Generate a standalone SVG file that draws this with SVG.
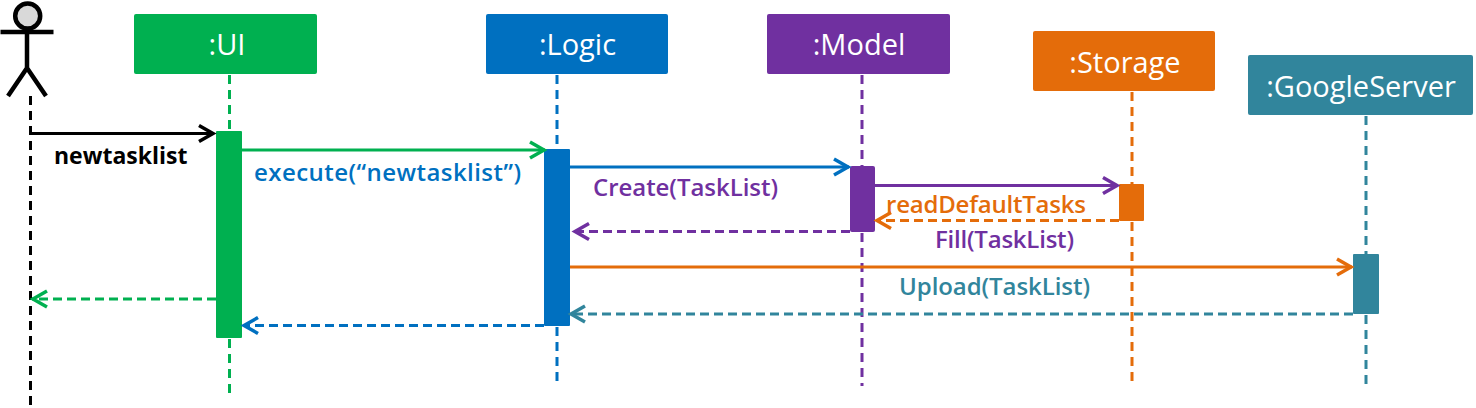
<svg xmlns="http://www.w3.org/2000/svg" width="1476" height="408" viewBox="0 0 1476 408">
<style>
text{font-family:"Open Sans","Noto Sans","Liberation Sans",sans-serif}
.t{font-size:29px;fill:#fff;text-anchor:middle}
.m{font-size:24px;font-weight:600}
.c{fill:none;stroke-width:3}
.d{stroke-dasharray:9 5}
.l{fill:none;stroke-width:3;stroke-dasharray:9 6}
.h{fill:none;stroke-width:3.500}
.green{stroke:#00b050}.blue{stroke:#0070c0}.purple{stroke:#7030a0}.orange{stroke:#e46c0a}.teal{stroke:#31859c}.black{stroke:#000}
.ag{marker-end:url(#ag)}.ab{marker-end:url(#ab)}.ap{marker-end:url(#ap)}.ao{marker-end:url(#ao)}.ak{marker-end:url(#ak)}.at{marker-end:url(#at)}
</style>
<defs>
<marker id="ag" markerUnits="userSpaceOnUse" markerWidth="24" markerHeight="24" refX="19" refY="12" orient="auto"><path class="h green" d="M4 4L18 12L4 20"/></marker>
<marker id="ab" markerUnits="userSpaceOnUse" markerWidth="24" markerHeight="24" refX="19" refY="12" orient="auto"><path class="h blue" d="M4 4L18 12L4 20"/></marker>
<marker id="ap" markerUnits="userSpaceOnUse" markerWidth="24" markerHeight="24" refX="19" refY="12" orient="auto"><path class="h purple" d="M4 4L18 12L4 20"/></marker>
<marker id="ao" markerUnits="userSpaceOnUse" markerWidth="24" markerHeight="24" refX="19" refY="12" orient="auto"><path class="h orange" d="M4 4L18 12L4 20"/></marker>
<marker id="ak" markerUnits="userSpaceOnUse" markerWidth="24" markerHeight="24" refX="19" refY="12" orient="auto"><path class="h black" d="M4 4L18 12L4 20"/></marker>
<marker id="at" markerUnits="userSpaceOnUse" markerWidth="24" markerHeight="24" refX="19" refY="12" orient="auto"><path class="h teal" d="M4 4L18 12L4 20"/></marker>
</defs>
<g id="lifelines">
<path class="l black" d="M30.500 96V405"/>
<path class="l green" d="M229.500 75V132M229.500 339V398"/>
<path class="l blue" d="M557 75V149M557 327V386"/>
<path class="l purple" d="M862 75V166M862 233V386"/>
<path class="l orange" d="M1132 92V184M1132 222V386"/>
<path class="l teal" d="M1366 116V254M1366 315V386"/>
</g>
<g id="actor">
<circle cx="27.700" cy="16" r="12.500" fill="#d9d9d9" stroke="#000" stroke-width="4.500"/>
<path d="M0.500 32H53.500M27 29V68M27 68L8 96M27 68L46 96" fill="none" stroke="#000" stroke-width="4.500"/>
</g>
<g id="ui">
<rect x="134" y="14" width="183" height="60" rx="2" fill="#00b050"/>
<text class="t" x="227" y="55">:UI</text>
<rect x="216" y="131" width="26" height="207" rx="1" fill="#00b050"/>
</g>
<g id="logic">
<rect x="486" y="14" width="182" height="60" rx="2" fill="#0070c0"/>
<text class="t" x="577.500" y="55">:Logic</text>
<rect x="544" y="149" width="26" height="177" rx="1" fill="#0070c0"/>
</g>
<g id="model">
<rect x="767" y="14" width="183" height="60" rx="2" fill="#7030a0"/>
<text class="t" x="859" y="55">:Model</text>
<rect x="850" y="166" width="25" height="66" rx="2" fill="#7030a0"/>
</g>
<g id="storage">
<rect x="1033" y="31" width="182" height="60" rx="2" fill="#e46c0a"/>
<text class="t" x="1125" y="73">:Storage</text>
<rect x="1119" y="184" width="25" height="37" rx="1" fill="#e46c0a"/>
</g>
<g id="googleserver">
<rect x="1248" y="55" width="225" height="60" rx="2" fill="#31859c"/>
<text class="t" x="1361" y="97">:GoogleServer</text>
<rect x="1353" y="254" width="26" height="60" rx="1" fill="#31859c"/>
</g>
<g id="connectors">
<path class="c black ak" d="M30 133.500H214"/>
<path class="c green ag" d="M242 150H545"/>
<path class="c blue ab" d="M570 167H849"/>
<path class="c purple ap" d="M875 185.500H1118"/>
<path class="c orange d ao" d="M1119 220.500H876"/>
<path class="c purple d ap" d="M850 231.500H574"/>
<path class="c orange ao" d="M570 267H1352"/>
<path class="c teal d at" d="M1353 314H570"/>
<path class="c blue d ab" d="M544 325.500H243"/>
<path class="c green d ag" d="M216 299H32"/>
</g>
<g id="labels">
<text class="m" x="54" y="164" style="font-weight:700;font-size:23px" fill="#000">newtasklist</text>
<text class="m" x="254" y="181" textLength="267" fill="#0070c0">execute(“newtasklist”)</text>
<text class="m" x="593" y="196" textLength="185" fill="#7030a0">Create(TaskList)</text>
<text class="m" x="886" y="213" textLength="200" fill="#e46c0a">readDefaultTasks</text>
<text class="m" x="935" y="248" textLength="139" fill="#7030a0">Fill(TaskList)</text>
<text class="m" x="899" y="295" textLength="191" fill="#31859c">Upload(TaskList)</text>
</g>
</svg>
